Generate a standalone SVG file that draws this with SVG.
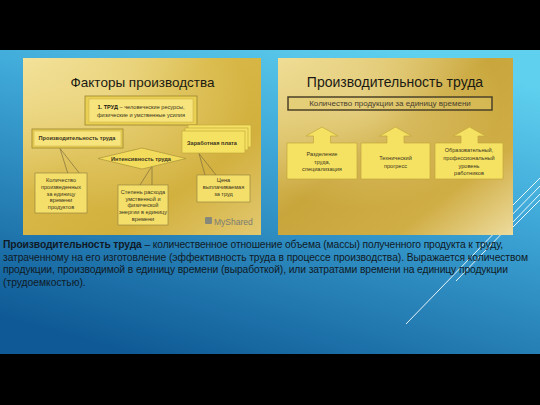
<svg xmlns="http://www.w3.org/2000/svg" width="540" height="405" viewBox="0 0 540 405">
<defs>
<linearGradient id="bg" x1="0.75" y1="0" x2="0.25" y2="1">
<stop offset="0" stop-color="#5fd0ee"/>
<stop offset="0.35" stop-color="#3fa8d8"/>
<stop offset="1" stop-color="#0f5a96"/>
</linearGradient>
<linearGradient id="goldL" x1="0" y1="0" x2="1" y2="1">
<stop offset="0" stop-color="#f2e096"/>
<stop offset="0.4" stop-color="#d8b847"/>
<stop offset="0.7" stop-color="#d2b03e"/>
<stop offset="1" stop-color="#e2c870"/>
</linearGradient>
<linearGradient id="goldR" x1="0" y1="0" x2="1" y2="1">
<stop offset="0" stop-color="#eedb90"/>
<stop offset="0.45" stop-color="#c9a63c"/>
<stop offset="0.75" stop-color="#d0ae46"/>
<stop offset="1" stop-color="#eedc9e"/>
</linearGradient>
<radialGradient id="hl" cx="0.35" cy="0.25" r="0.6">
<stop offset="0" stop-color="#fff5c0" stop-opacity="0.4"/>
<stop offset="1" stop-color="#fff5c0" stop-opacity="0"/>
</radialGradient>
<style>
.t{font-family:"Liberation Sans",Arial,sans-serif;fill:#1b1a12}
.s{font-family:"Liberation Sans",Arial,sans-serif;font-size:5.6px;fill:#3a3420;text-anchor:middle}
.b{font-weight:bold}
.call{fill:#f4df6a;stroke:#8c7c3c;stroke-width:0.6}
.ptr{fill:none;stroke:#6e6238;stroke-width:0.6}
.bev{fill:#e9cf52;stroke:#9a8430;stroke-width:0.8}
.bin{fill:#f7e47c;stroke:#c9b048;stroke-width:0.5}
.ybox{fill:#f6e262;stroke:#c3a83c;stroke-width:0.7}
.body{font-family:"Liberation Sans",Arial,sans-serif;font-size:10.3px;fill:#101a26}
.dl{stroke:#ffffff;stroke-width:1;fill:none;opacity:0.9}
</style>
</defs>
<rect x="0" y="0" width="540" height="405" fill="#000"/>
<rect x="0" y="50" width="540" height="304" fill="url(#bg)"/>

<!-- decorative lines -->
<g id="decor">
<line class="dl" x1="540" y1="186" x2="406" y2="324"/>
<line class="dl" x1="540" y1="194" x2="456" y2="281"/>
<line class="dl" x1="540" y1="200" x2="508" y2="232"/>
<line class="dl" x1="540" y1="178" x2="510" y2="208"/>
</g>

<!-- left panel -->
<g id="panel-left">
<rect x="23" y="58" width="238" height="177" fill="url(#goldL)"/>
<rect x="23" y="58" width="238" height="177" fill="url(#hl)"/>
<text class="t" x="142.5" y="87" font-size="13.5" text-anchor="middle">Факторы производства</text>
</g>

<g id="connectors">
<polyline class="ptr" points="68,174 60,148.5 80,174"/>
<polyline class="ptr" points="140,185 152,166 152,185"/>
<polyline class="ptr" points="205,175 199,153.5 216,175"/>
</g>

<g id="node-trud">
<rect class="bev" x="85" y="96" width="112" height="29"/>
<rect class="bin" x="89" y="99" width="104" height="23"/>
<text class="s" x="141" y="109"><tspan class="b" fill="#1b1a12">1. ТРУД</tspan> – человеческие ресурсы,</text>
<text class="s" x="141" y="117">физические и умственные усилия</text>
</g>

<g id="node-proizv">
<rect class="bev" x="32" y="129" width="91" height="19"/>
<rect class="bin" x="34" y="131" width="87" height="15"/>
<text class="s b" x="77" y="140" fill="#1b1a12">Производительность труда</text>
</g>

<g id="node-zarplata">
<rect class="ybox" x="188" y="125" width="63" height="22"/>
<rect class="ybox" x="185" y="128" width="63" height="22"/>
<rect class="ybox" x="182" y="131" width="63" height="22"/>
<text class="s b" x="212" y="145" fill="#1b1a12">Заработная плата</text>
</g>

<g id="node-intens">
<polygon points="98,158.5 142,148 186,158.5 142,169" fill="#f3dc5c" stroke="#a99238" stroke-width="0.7"/>
<text class="s b" x="141" y="161" fill="#1b1a12">Интенсивность труда</text>
</g>

<g id="node-kolvo">
<rect class="call" x="35" y="173" width="52" height="40"/>
<text class="s" x="61" y="182">Количество</text>
<text class="s" x="61" y="189">произведенных</text>
<text class="s" x="61" y="195.5">за единицу</text>
<text class="s" x="61" y="202">времени</text>
<text class="s" x="61" y="209">продуктов</text>
</g>

<g id="node-stepen">
<rect class="call" x="118" y="185" width="50" height="40"/>
<text class="s" x="143" y="194">Степень расхода</text>
<text class="s" x="143" y="200.5">умственной и</text>
<text class="s" x="143" y="207">физической</text>
<text class="s" x="143" y="213.5">энергии в единицу</text>
<text class="s" x="143" y="221">времени</text>
</g>

<g id="node-cena">
<rect class="call" x="197" y="175" width="53" height="27"/>
<text class="s" x="223.5" y="182">Цена</text>
<text class="s" x="223.5" y="189">выплачиваемая</text>
<text class="s" x="223.5" y="196">за труд</text>
</g>

<g id="watermark">
<rect x="205" y="217" width="7" height="7" rx="1" fill="#86887a"/>
<text x="214" y="224.5" font-family="Liberation Sans,Arial,sans-serif" font-size="8.5" fill="#7c7c72">MyShared</text>
</g>

<!-- right panel -->
<g id="panel-right">
<rect x="278" y="58" width="235" height="177" fill="url(#goldR)"/>
<rect x="278" y="58" width="235" height="177" fill="url(#hl)"/>
<text class="t" x="395" y="87" font-size="14" text-anchor="middle">Производительность труда</text>
</g>

<g id="node-kolprod">
<rect x="288" y="97" width="204" height="13" fill="#e2ca6a" fill-opacity="0.4" stroke="#4b4128" stroke-width="1.5"/>
<text x="390" y="106.2" font-family="Liberation Sans,Arial,sans-serif" font-size="8" fill="#4a4030" text-anchor="middle">Количество продукции за единицу времени</text>
</g>

<g id="node-razdel">
<path class="ybox" d="M287,143 H313.5 V136 H306 L322,127 L338,136 H330.5 V143 H357 V179 H287 Z"/>
<text class="s" x="322" y="156">Разделение</text>
<text class="s" x="322" y="163.5">труда,</text>
<text class="s" x="322" y="171">специализация</text>
</g>

<g id="node-tech">
<path class="ybox" d="M361,143 H387 V136 H379.5 L395.5,127 L411.5,136 H404 V143 H430 V179 H361 Z"/>
<text class="s" x="395.5" y="160">Технический</text>
<text class="s" x="395.5" y="168">прогресс</text>
</g>

<g id="node-obraz">
<path class="ybox" d="M435,143 H461 V136 H453.5 L469.5,127 L485.5,136 H478 V143 H503 V179 H435 Z"/>
<text class="s" x="469" y="152">Образовательный,</text>
<text class="s" x="469" y="160">профессиональный</text>
<text class="s" x="469" y="167.5">уровень</text>
<text class="s" x="469" y="175">работников</text>
</g>

<!-- body text -->
<g id="body">
<text class="body" x="3" y="248" textLength="500" lengthAdjust="spacing"><tspan font-weight="bold">Производительность труда</tspan> – количественное отношение объема (массы) полученного продукта к труду,</text>
<text class="body" x="3" y="260.5" textLength="525" lengthAdjust="spacing">затраченному на его изготовление (эффективность труда в процессе производства). Выражается количеством</text>
<text class="body" x="3" y="273" textLength="505" lengthAdjust="spacing">продукции, производимой в единицу времени (выработкой), или затратами времени на единицу продукции</text>
<text class="body" x="3" y="285.5">(трудоемкостью).</text>
</g>
</svg>
